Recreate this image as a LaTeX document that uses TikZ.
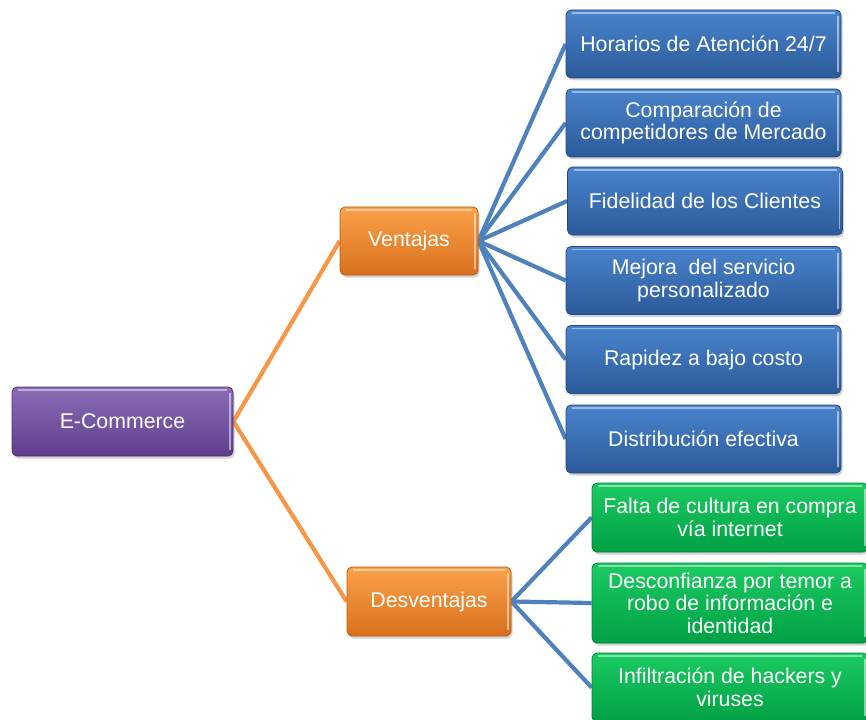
\documentclass[tikz,border=0pt]{standalone}
\usepackage{fontspec}
\setmainfont{Liberation Sans}
\usetikzlibrary{shadows,backgrounds}
\definecolor{purpT}{HTML}{8A6DB6}
\definecolor{purpB}{HTML}{5F3F8C}
\definecolor{purpD}{HTML}{4E3375}
\definecolor{orT}{HTML}{FBA24A}
\definecolor{orB}{HTML}{D96F1C}
\definecolor{orD}{HTML}{B85C14}
\definecolor{blT}{HTML}{4A84CC}
\definecolor{blB}{HTML}{2B5A9A}
\definecolor{blD}{HTML}{24497D}
\definecolor{grT}{HTML}{1CCB62}
\definecolor{grB}{HTML}{00A044}
\definecolor{grD}{HTML}{007F37}
\definecolor{lineBlue}{HTML}{4F81BD}
\definecolor{lineOr}{HTML}{F79646}
\tikzset{
  boxbase/.style={rectangle, rounded corners=5pt, inner sep=2pt, align=center,
    text=white, font=\fontsize{21.3}{22.5}\selectfont, line width=0.8pt,
    drop shadow={shadow xshift=1.5pt, shadow yshift=-2.5pt, opacity=0.35},
    path picture={
      \draw[white, opacity=0.45, line width=1.2pt]
        ([xshift=6pt,yshift=-3pt]path picture bounding box.north west) --
        ([xshift=-6pt,yshift=-3pt]path picture bounding box.north east);
      \draw[white, opacity=0.5, line width=1.5pt]
        ([xshift=-3pt,yshift=-6pt]path picture bounding box.north east) --
        ([xshift=-3pt,yshift=6pt]path picture bounding box.south east);
    }},
  purpbox/.style={boxbase, top color=purpT, bottom color=purpB, draw=purpD},
  orbox/.style={boxbase, top color=orT, bottom color=orB, draw=orD},
  blbox/.style={boxbase, top color=blT, bottom color=blB, draw=blD,
    minimum width=275pt, minimum height=68pt},
  grbox/.style={boxbase, top color=grT, bottom color=grB, draw=grD,
    minimum width=276pt, minimum height=69pt},
  blline/.style={draw=lineBlue, line width=4.2pt},
  orline/.style={draw=lineOr, line width=4.2pt},
}
\begin{document}
\begin{tikzpicture}[x=1pt,y=-1pt]
\useasboundingbox (0,0) rectangle (866,719);
% nodes
\node[purpbox, minimum width=221pt, minimum height=69pt] (ecom) at (122.5,421.5) {E-Commerce};
\node[orbox, minimum width=138pt, minimum height=68pt] (vent) at (409,241) {Ventajas};
\node[orbox, minimum width=164pt, minimum height=69pt] (desv) at (429,601.5) {Desventajas};
\node[blbox] (b1) at (703.5,44) {Horarios de Atención 24/7};
\node[blbox] (b2) at (703.5,123) {Comparación de\\competidores de Mercado};
\node[blbox] (b3) at (705,201) {Fidelidad de los Clientes};
\node[blbox] (b4) at (703.5,280.5) {Mejora\ \ del servicio\\personalizado};
\node[blbox] (b5) at (703.5,359.5) {Rapidez a bajo costo};
\node[blbox] (b6) at (703.5,439) {Distribución efectiva};
\node[grbox] (g1) at (730,517.5) {Falta de cultura en compra\\vía internet};
\node[grbox, minimum height=80pt] (g2) at (730,603) {Desconfianza por temor a\\robo de información e\\identidad};
\node[grbox] (g3) at (730,687.5) {Infiltración de hackers y\\viruses};
% connectors (behind)
\begin{pgfonlayer}{background}
\draw[orline] (ecom.east) -- (vent.west);
\draw[orline] (ecom.east) -- (desv.west);
\foreach \n in {b1,b2,b3,b4,b5,b6} \draw[blline] (vent.east) -- (\n.west);
\foreach \n in {g1,g2,g3} \draw[blline] (desv.east) -- (\n.west);
\end{pgfonlayer}
\end{tikzpicture}
\end{document}
